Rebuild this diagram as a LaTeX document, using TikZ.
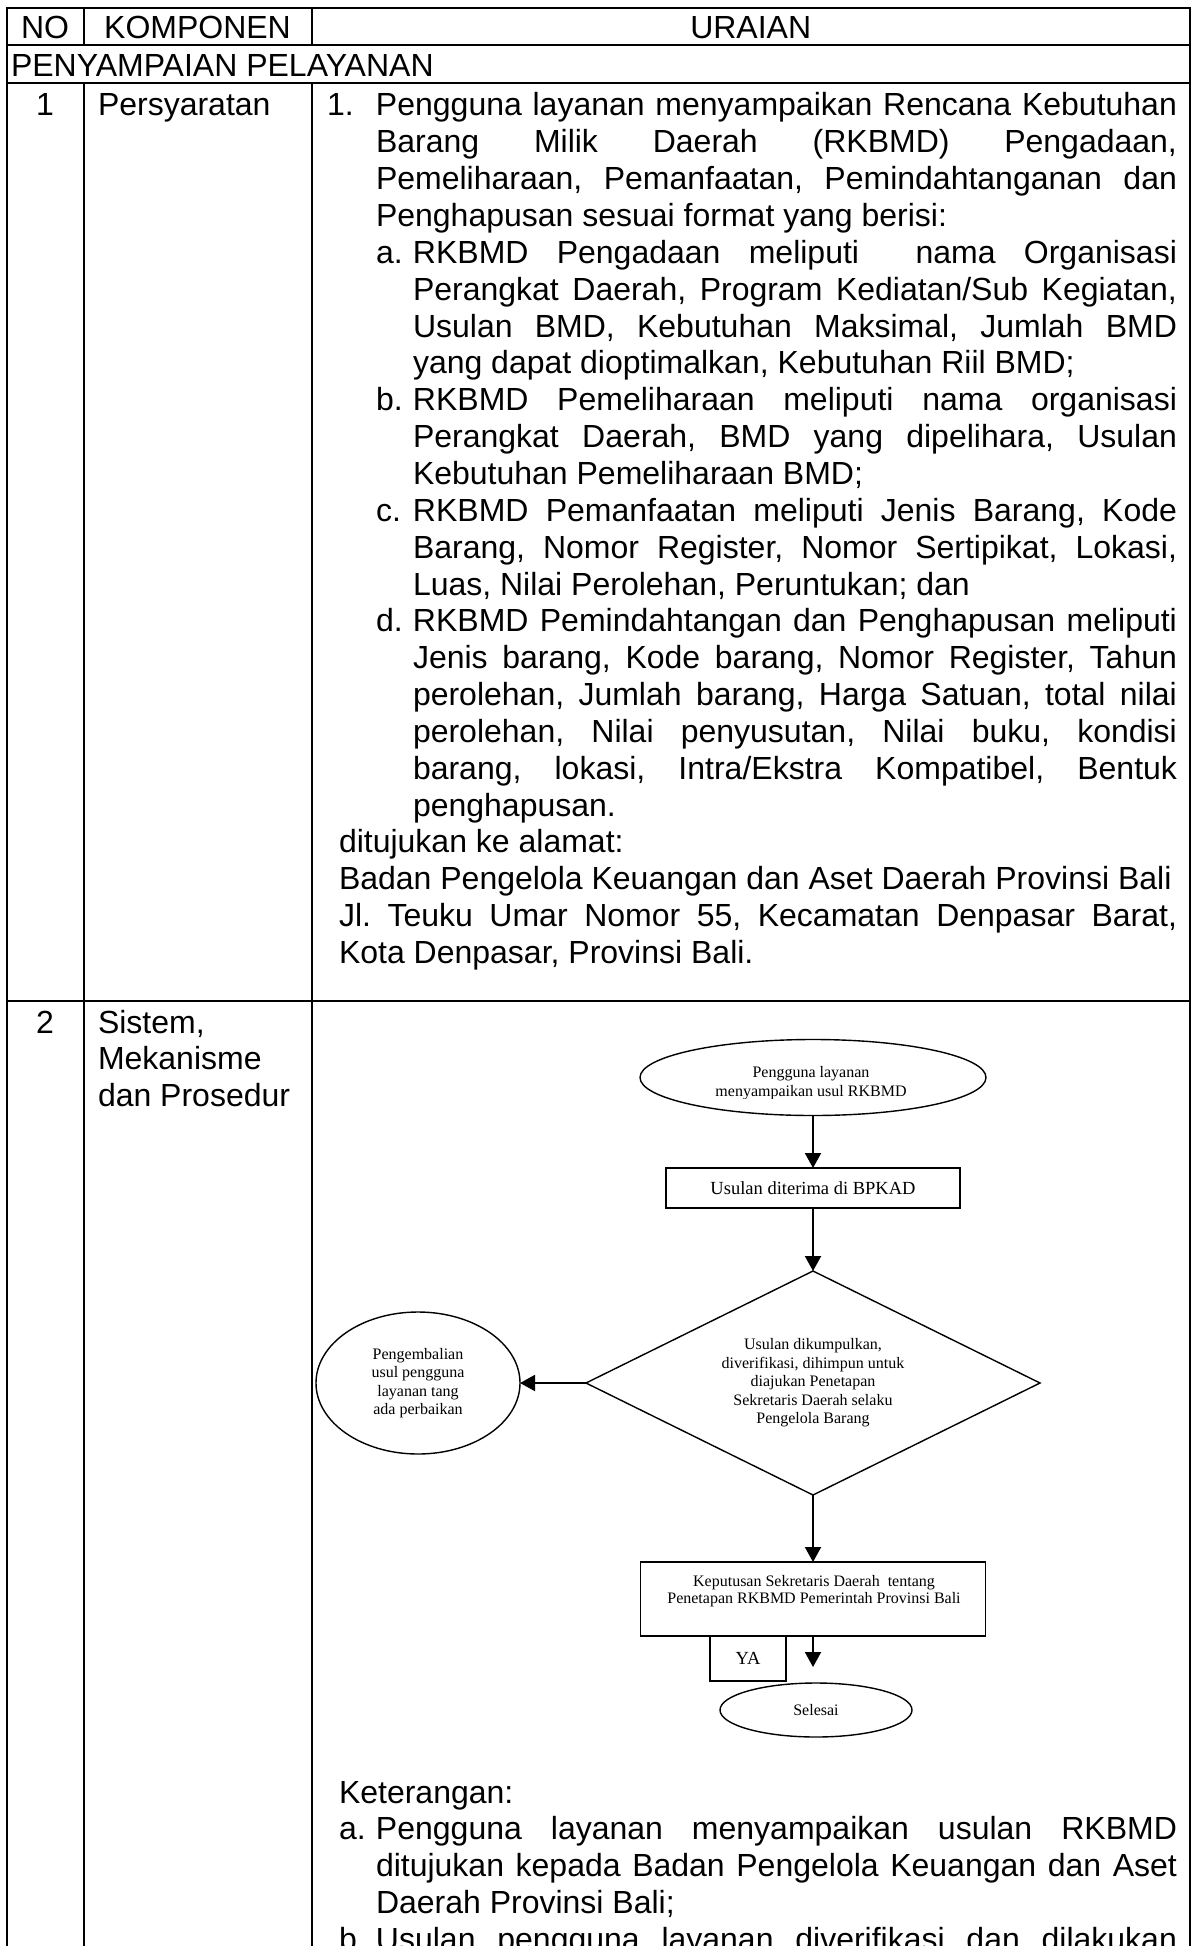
\documentclass[tikz,border=0pt]{standalone}
\usepackage{fontspec}
\setmainfont{Liberation Sans}
\newfontfamily\flowfont{Liberation Serif}
\usetikzlibrary{shapes.geometric,arrows.meta}
% one drawing pixel
\newdimen\upx \upx=0.5pt
% justified line, left-aligned line, and lines with a hanging label
\newcommand\jrow[2]{\hbox to\hsize{\hskip#1\upx\relax #2}}
\newcommand\lrow[2]{\hbox to\hsize{\hskip#1\upx\relax #2\hfil}}
\newcommand\jitem[4]{\hbox to\hsize{\hskip#1\upx\relax\hbox to#2\upx{#3\hfil}#4}}
\newcommand\litem[4]{\hbox to\hsize{\hskip#1\upx\relax\hbox to#2\upx{#3\hfil}#4\hfil}}
\newcommand\textblock[1]{\vtop{\hsize=425pt\baselineskip=18.425pt\lineskiplimit=-100pt\lineskip=0pt\frenchspacing\hbadness=10000 #1}}
\begin{document}
\begin{tikzpicture}[x=0.5pt,y=-0.5pt,
  every node/.style={inner sep=0pt,outer sep=0pt},
  body/.style={font=\fontsize{16pt}{18.425pt}\selectfont},
  rule/.style={line width=1pt},
  fc/.style={font=\flowfont\fontsize{8pt}{9.25pt}\selectfont,align=center},
  fcbig/.style={font=\flowfont\fontsize{9.25pt}{10.6pt}\selectfont},
  fshape/.style={draw,line width=0.7pt},
  arr/.style={line width=1pt,-{Triangle[length=7.5pt,width=8pt]}}]
\useasboundingbox (0,0) rectangle (1194,1946);
\clip (0,0) rectangle (1194,1946);

% table rules
\draw[rule] (6.5,8) -- (1190,8);
\draw[rule] (6.5,45) -- (1190,45);
\draw[rule] (6.5,83) -- (1190,83);
\draw[rule] (6.5,1001) -- (1190,1001);
\draw[rule] (6.5,7.5) -- (6.5,1960);
\draw[rule] (1190,7.5) -- (1190,1960);
\draw[rule] (83.5,8) -- (83.5,45);
\draw[rule] (311.5,8) -- (311.5,45);
\draw[rule] (83.5,83) -- (83.5,1960);
\draw[rule] (311.5,83) -- (311.5,1960);

% header and section rows
\node[body,anchor=base] (hno) at (45,39) {NO};
\node[body,anchor=base] (hkomp) at (197.5,39) {KOMPONEN};
\node[body,anchor=base] (hurai) at (750.7,39) {URAIAN};
\node[body,anchor=base west] (sect) at (11,77) {PENYAMPAIAN PELAYANAN};

% row 1
\node[body,anchor=base] (no1) at (45,116) {1};
\node[body,anchor=base west] (komp1) at (98,116) {Persyaratan};
\node[body,anchor=base west] (urai1) at (327,116) {\textblock{%
\jitem{0}{49}{1.}{Pengguna layanan menyampaikan Rencana Kebutuhan}
\jrow{49}{Barang Milik Daerah (RKBMD) Pengadaan,}
\jrow{49}{Pemeliharaan, Pemanfaatan, Pemindahtanganan dan}
\lrow{49}{Penghapusan sesuai format yang berisi:}
\jitem{49}{37}{a.}{RKBMD Pengadaan meliputi\ \ nama Organisasi}
\jrow{86}{Perangkat Daerah, Program Kediatan/Sub Kegiatan,}
\jrow{86}{Usulan BMD, Kebutuhan Maksimal, Jumlah BMD}
\lrow{86}{yang dapat dioptimalkan, Kebutuhan Riil BMD;}
\jitem{49}{37}{b.}{RKBMD Pemeliharaan meliputi nama organisasi}
\jrow{86}{Perangkat Daerah, BMD yang dipelihara, Usulan}
\lrow{86}{Kebutuhan Pemeliharaan BMD;}
\jitem{49}{37}{c.}{RKBMD Pemanfaatan meliputi Jenis Barang, Kode}
\jrow{86}{Barang, Nomor Register, Nomor Sertipikat, Lokasi,}
\lrow{86}{Luas, Nilai Perolehan, Peruntukan; dan}
\jitem{49}{37}{d.}{RKBMD Pemindahtangan dan Penghapusan meliputi}
\jrow{86}{Jenis barang, Kode barang, Nomor Register, Tahun}
\jrow{86}{perolehan, Jumlah barang, Harga Satuan, total nilai}
\jrow{86}{perolehan, Nilai penyusutan, Nilai buku, kondisi}
\jrow{86}{barang, lokasi, Intra/Ekstra Kompatibel, Bentuk}
\lrow{86}{penghapusan.}
\lrow{12}{ditujukan ke alamat:}
\lrow{12}{Badan Pengelola Keuangan dan Aset Daerah Provinsi Bali}
\jrow{12}{Jl. Teuku Umar Nomor 55, Kecamatan Denpasar Barat,}
\lrow{12}{Kota Denpasar, Provinsi Bali.}}};

% row 2
\node[body,anchor=base] (no2) at (45,1033) {2};
\node[body,anchor=base west] (komp2) at (98,1033) {\textblock{%
\lrow{0}{Sistem,}
\lrow{0}{Mekanisme}
\lrow{0}{dan Prosedur}}};

% flowchart
\node[fshape,ellipse,minimum width=173pt,minimum height=38pt] (start) at (813,1077.5) {};
\begin{scope}
  \clip (640,1038) rectangle (990,1098);
  \node[fc,font=\flowfont\fontsize{8pt}{9.6pt}\selectfont] (startlbl) at (811,1083) {Pengguna layanan\\menyampaikan usul RKBMD};
\end{scope}
\node[fshape,fcbig,rectangle,minimum width=147pt,minimum height=20pt] (recv) at (813,1188) {Usulan diterima di BPKAD};
\node[fshape,fc,diamond,aspect=2,minimum width=227pt,minimum height=112pt] (check) at (813,1383)
  {Usulan dikumpulkan,\\diverifikasi, dihimpun untuk\\diajukan Penetapan\\Sekretaris Daerah selaku\\Pengelola Barang};
\node[fshape,fc,ellipse,minimum width=102pt,minimum height=71pt] (back) at (418,1383)
  {Pengembalian\\usul pengguna\\layanan tang\\ada perbaikan};
\node[fshape,rectangle,minimum width=172.5pt,minimum height=37pt] (kep) at (813,1599) {};
\node[fc,font=\flowfont\fontsize{8pt}{8.5pt}\selectfont] (keplbl) at (814,1591)
  {Keputusan Sekretaris Daerah\ \ tentang\\Penetapan RKBMD Pemerintah Provinsi Bali};
\node[fshape,fcbig,rectangle,minimum width=38pt,minimum height=22.5pt] (ya) at (748,1658.5) {YA};
\node[fshape,fc,ellipse,minimum width=96pt,minimum height=27pt] (done) at (816,1710) {Selesai};
\coordinate (yaend) at (813,1667);

\draw[arr] (start.south) -- (recv.north);
\draw[arr] (recv.south) -- (check.north);
\draw[arr] (check.west) -- (back.east);
\draw[arr] (check.south) -- (kep.north);
\draw[arr] (kep.south) -- (yaend);

% notes under the flowchart
\node[body,anchor=base west] (notes) at (327,1803) {\textblock{%
\lrow{12}{Keterangan:}
\jitem{12}{37}{a.}{Pengguna layanan menyampaikan usulan RKBMD}
\jrow{49}{ditujukan kepada Badan Pengelola Keuangan dan Aset}
\lrow{49}{Daerah Provinsi Bali;}
\jitem{12}{37}{b.}{Usulan pengguna layanan diverifikasi dan dilakukan}}};
\end{tikzpicture}
\end{document}
